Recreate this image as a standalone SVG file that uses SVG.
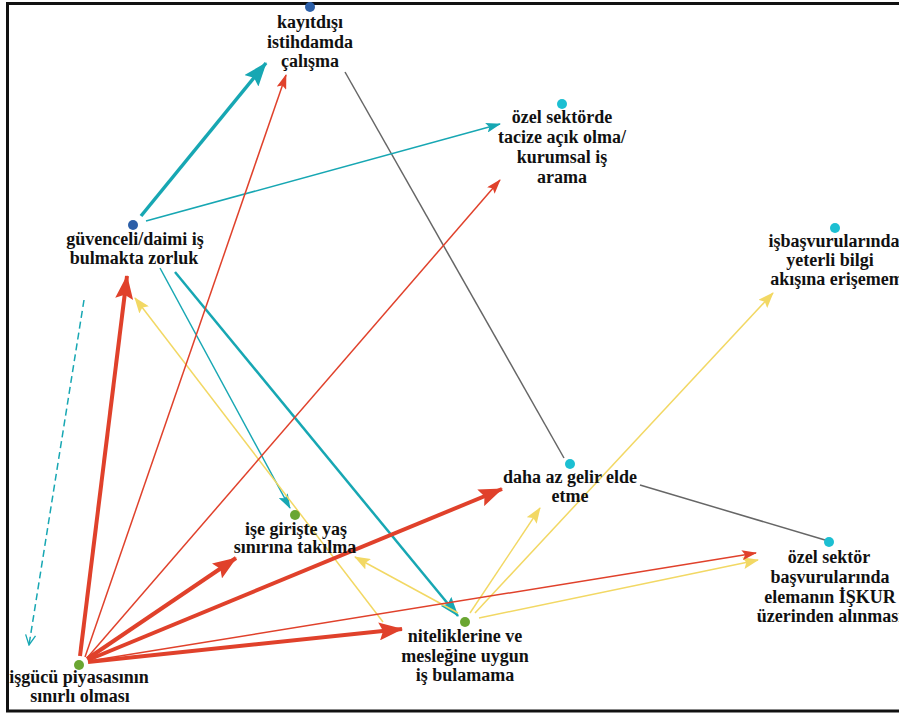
<svg xmlns="http://www.w3.org/2000/svg" width="899" height="715" viewBox="0 0 899 715">
<style>
.lbl{font-family:"Liberation Serif","Times New Roman",serif;font-weight:bold;font-size:18px;fill:#111;text-anchor:middle}
.e{fill:none}
.red{stroke:#e0412b}
.teal{stroke:#17a7b3}
.yel{stroke:#f2d864}
.gray{stroke:#666}
.w1{stroke-width:1.5}
.w2{stroke-width:2.5}
.w3{stroke-width:3.5}
.w4{stroke-width:4}
.dblue{fill:#2c5fa8}
.cyan{fill:#1cbfd2}
.green{fill:#6aa632}
</style>
<defs>
<marker id="rB" markerUnits="userSpaceOnUse" viewBox="0 0 24 18" refX="23" refY="9" markerWidth="24" markerHeight="18" orient="auto"><path d="M0,0 L24,9 L0,18 L4,9 z" fill="#e0412b"/></marker>
<marker id="rS" markerUnits="userSpaceOnUse" viewBox="0 0 15 10" refX="14" refY="5" markerWidth="15" markerHeight="10" orient="auto"><path d="M0,0 L15,5 L0,10 L3,5 z" fill="#e0412b"/></marker>
<marker id="tB" markerUnits="userSpaceOnUse" viewBox="0 0 24 18" refX="23" refY="9" markerWidth="24" markerHeight="18" orient="auto"><path d="M0,0 L24,9 L0,18 L4,9 z" fill="#17a7b3"/></marker>
<marker id="tM" markerUnits="userSpaceOnUse" viewBox="0 0 20 14" refX="19" refY="7" markerWidth="20" markerHeight="14" orient="auto"><path d="M0,0 L20,7 L0,14 L3,7 z" fill="#17a7b3"/></marker>
<marker id="tS" markerUnits="userSpaceOnUse" viewBox="0 0 15 10" refX="14" refY="5" markerWidth="15" markerHeight="10" orient="auto"><path d="M0,0 L15,5 L0,10 L3,5 z" fill="#17a7b3"/></marker>
<marker id="yS" markerUnits="userSpaceOnUse" viewBox="0 0 16 12" refX="15" refY="6" markerWidth="16" markerHeight="12" orient="auto"><path d="M0,0 L16,6 L0,12 L3,6 z" fill="#f2d864"/></marker>
<marker id="tO" markerUnits="userSpaceOnUse" viewBox="0 0 12 12" refX="11" refY="6" markerWidth="12" markerHeight="12" orient="auto"><path d="M1,1 L11,6 L1,11" fill="none" stroke="#17a7b3" stroke-width="1.3"/></marker>
</defs>
<rect x="0" y="0" width="899" height="715" fill="#fff"/>
<rect x="7.5" y="3.5" width="905" height="707.5" fill="none" stroke="#111" stroke-width="3"/>
<g id="connectors">
<line class="e gray w1" x1="345" y1="72" x2="564" y2="458"/>
<line class="e gray w1" x1="640" y1="485" x2="825" y2="540"/>
<line class="e teal w1" x1="84" y1="300" x2="29" y2="645" stroke-dasharray="7,4" marker-end="url(#tO)"/>
<line class="e teal w3" x1="141" y1="216" x2="266" y2="63" marker-end="url(#tB)"/>
<line class="e teal w1" x1="146" y1="221" x2="500" y2="124" marker-end="url(#tS)"/>
<line class="e teal w1" x1="160" y1="268" x2="290" y2="508" marker-end="url(#tS)"/>
<line class="e teal w2" x1="175" y1="272" x2="458" y2="616" marker-end="url(#tM)"/>
<line class="e yel w1" x1="383" y1="622" x2="135" y2="298" marker-end="url(#yS)"/>
<line class="e yel w1" x1="458" y1="613" x2="355" y2="557" marker-end="url(#yS)"/>
<line class="e yel w1" x1="470" y1="613" x2="540" y2="508" marker-end="url(#yS)"/>
<line class="e yel w1" x1="475" y1="613" x2="773" y2="293" marker-end="url(#yS)"/>
<line class="e yel w1" x1="479" y1="618" x2="758" y2="560" marker-end="url(#yS)"/>
<line class="e red w4" x1="80" y1="656" x2="127" y2="276" marker-end="url(#rB)"/>
<line class="e red w1" x1="85" y1="657" x2="286" y2="75" marker-end="url(#rS)"/>
<line class="e red w1" x1="87" y1="658" x2="500" y2="180" marker-end="url(#rS)"/>
<line class="e red w4" x1="88" y1="660" x2="502" y2="489" marker-end="url(#rB)"/>
<line class="e red w4" x1="87" y1="659" x2="236" y2="558" marker-end="url(#rB)"/>
<line class="e red w4" x1="88" y1="662" x2="402" y2="629" marker-end="url(#rB)"/>
<line class="e red w1" x1="89" y1="661" x2="756" y2="553" marker-end="url(#rS)"/>
</g>
<g id="n-kayitdisi"><circle class="dblue" cx="310" cy="7" r="5"/><text class="lbl" x="310"><tspan x="310" y="28">kayıtdışı</tspan><tspan x="310" y="48">istihdamda</tspan><tspan x="310" y="67">çalışma</tspan></text></g>
<g id="n-ozel-sektorde"><circle class="cyan" cx="562" cy="104" r="5"/><text class="lbl"><tspan x="562" y="123">özel sektörde</tspan><tspan x="562" y="143">tacize açık olma/</tspan><tspan x="562" y="163">kurumsal iş</tspan><tspan x="562" y="183">arama</tspan></text></g>
<g id="n-isbasvuru"><circle class="cyan" cx="835" cy="228" r="5"/><text class="lbl"><tspan x="834" y="247">işbaşvurularında</tspan><tspan x="830" y="266">yeterli bilgi</tspan><tspan x="841" y="285">akışına erişememe</tspan></text></g>
<g id="n-guvenceli"><circle class="dblue" cx="133" cy="225" r="5"/><text class="lbl"><tspan x="135" y="245">güvenceli/daimi iş</tspan><tspan x="134" y="264">bulmakta zorluk</tspan></text></g>
<g id="n-daha-az-gelir"><circle class="cyan" cx="570" cy="464" r="5"/><text class="lbl"><tspan x="570" y="483">daha az gelir elde</tspan><tspan x="570" y="502">etme</tspan></text></g>
<g id="n-ozel-sektor-basvuru"><circle class="cyan" cx="829" cy="542" r="5"/><text class="lbl"><tspan x="829" y="563">özel sektör</tspan><tspan x="830" y="583">başvurularında</tspan><tspan x="830" y="603">elemanın İŞKUR</tspan><tspan x="830" y="622">üzerinden alınması</tspan></text></g>
<g id="n-ise-giriste"><circle class="green" cx="295" cy="515" r="5"/><text class="lbl"><tspan x="296" y="535">işe girişte yaş</tspan><tspan x="295" y="553">sınırına takılma</tspan></text></g>
<g id="n-niteliklerine"><circle class="green" cx="465" cy="622" r="5"/><text class="lbl"><tspan x="465" y="642">niteliklerine ve</tspan><tspan x="465" y="662">mesleğine uygun</tspan><tspan x="465" y="681">iş bulamama</tspan></text></g>
<g id="n-isgucu"><circle class="green" cx="79" cy="665" r="5"/><text class="lbl"><tspan x="79" y="683">işgücü piyasasının</tspan><tspan x="80" y="702">sınırlı olması</tspan></text></g>
</svg>
